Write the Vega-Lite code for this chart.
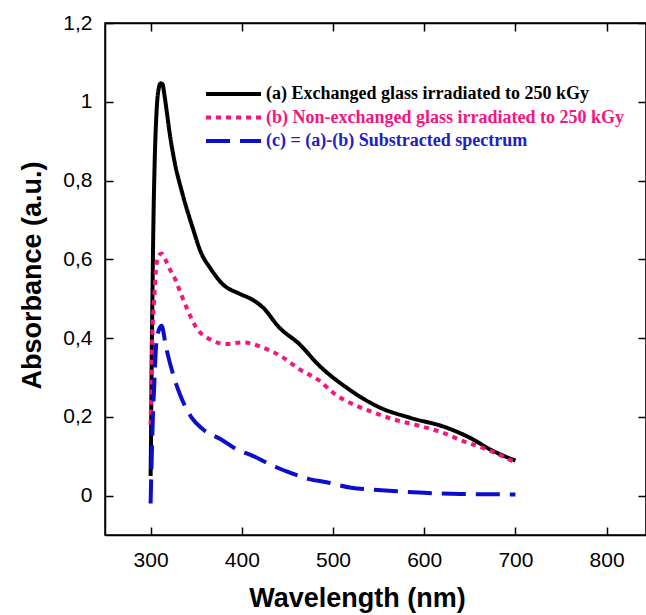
{
  "$schema": "https://vega.github.io/schema/vega-lite/v6.json",
  "autosize": "none",
  "width": 541,
  "height": 512,
  "padding": {"left": 105, "top": 23, "right": 0, "bottom": 80},
  "background": "white",
  "config": {
    "view": {"stroke": "black", "strokeWidth": 1.5},
    "font": "Liberation Sans",
    "axis": {
      "grid": false,
      "domainColor": "black",
      "domainWidth": 1.5,
      "tickColor": "black",
      "tickWidth": 1.5,
      "tickSize": -8,
      "labelFont": "Liberation Sans",
      "labelFontSize": 21,
      "labelColor": "black",
      "titleFont": "Liberation Sans",
      "titleFontWeight": "bold",
      "titleFontSize": 27,
      "titleColor": "black"
    }
  },
  "data": {
    "values": [
      {"series": "(a) Exchanged glass irradiated to 250 kGy", "wavelength": 300, "absorbance": 0.05},
      {"series": "(a) Exchanged glass irradiated to 250 kGy", "wavelength": 300.5, "absorbance": 0.15},
      {"series": "(a) Exchanged glass irradiated to 250 kGy", "wavelength": 301, "absorbance": 0.3},
      {"series": "(a) Exchanged glass irradiated to 250 kGy", "wavelength": 302, "absorbance": 0.5},
      {"series": "(a) Exchanged glass irradiated to 250 kGy", "wavelength": 303, "absorbance": 0.68},
      {"series": "(a) Exchanged glass irradiated to 250 kGy", "wavelength": 304.5, "absorbance": 0.85},
      {"series": "(a) Exchanged glass irradiated to 250 kGy", "wavelength": 306, "absorbance": 0.95},
      {"series": "(a) Exchanged glass irradiated to 250 kGy", "wavelength": 308, "absorbance": 1.02},
      {"series": "(a) Exchanged glass irradiated to 250 kGy", "wavelength": 311, "absorbance": 1.047},
      {"series": "(a) Exchanged glass irradiated to 250 kGy", "wavelength": 313, "absorbance": 1.045},
      {"series": "(a) Exchanged glass irradiated to 250 kGy", "wavelength": 315, "absorbance": 1.02},
      {"series": "(a) Exchanged glass irradiated to 250 kGy", "wavelength": 318, "absorbance": 0.97},
      {"series": "(a) Exchanged glass irradiated to 250 kGy", "wavelength": 320, "absorbance": 0.935},
      {"series": "(a) Exchanged glass irradiated to 250 kGy", "wavelength": 326, "absorbance": 0.851},
      {"series": "(a) Exchanged glass irradiated to 250 kGy", "wavelength": 335, "absorbance": 0.766},
      {"series": "(a) Exchanged glass irradiated to 250 kGy", "wavelength": 346, "absorbance": 0.681},
      {"series": "(a) Exchanged glass irradiated to 250 kGy", "wavelength": 356, "absorbance": 0.613},
      {"series": "(a) Exchanged glass irradiated to 250 kGy", "wavelength": 365, "absorbance": 0.579},
      {"series": "(a) Exchanged glass irradiated to 250 kGy", "wavelength": 379, "absorbance": 0.537},
      {"series": "(a) Exchanged glass irradiated to 250 kGy", "wavelength": 398, "absorbance": 0.512},
      {"series": "(a) Exchanged glass irradiated to 250 kGy", "wavelength": 412, "absorbance": 0.497},
      {"series": "(a) Exchanged glass irradiated to 250 kGy", "wavelength": 423, "absorbance": 0.478},
      {"series": "(a) Exchanged glass irradiated to 250 kGy", "wavelength": 441, "absorbance": 0.427},
      {"series": "(a) Exchanged glass irradiated to 250 kGy", "wavelength": 463, "absorbance": 0.385},
      {"series": "(a) Exchanged glass irradiated to 250 kGy", "wavelength": 485, "absorbance": 0.33},
      {"series": "(a) Exchanged glass irradiated to 250 kGy", "wavelength": 515, "absorbance": 0.274},
      {"series": "(a) Exchanged glass irradiated to 250 kGy", "wavelength": 551, "absorbance": 0.224},
      {"series": "(a) Exchanged glass irradiated to 250 kGy", "wavelength": 584, "absorbance": 0.198},
      {"series": "(a) Exchanged glass irradiated to 250 kGy", "wavelength": 624, "absorbance": 0.173},
      {"series": "(a) Exchanged glass irradiated to 250 kGy", "wavelength": 650, "absorbance": 0.147},
      {"series": "(a) Exchanged glass irradiated to 250 kGy", "wavelength": 675, "absorbance": 0.114},
      {"series": "(a) Exchanged glass irradiated to 250 kGy", "wavelength": 700, "absorbance": 0.089},
      {"series": "(b) Non-exchanged glass irradiated to 250 kGy", "wavelength": 300, "absorbance": 0.18},
      {"series": "(b) Non-exchanged glass irradiated to 250 kGy", "wavelength": 301, "absorbance": 0.3},
      {"series": "(b) Non-exchanged glass irradiated to 250 kGy", "wavelength": 302, "absorbance": 0.41},
      {"series": "(b) Non-exchanged glass irradiated to 250 kGy", "wavelength": 304, "absorbance": 0.5},
      {"series": "(b) Non-exchanged glass irradiated to 250 kGy", "wavelength": 306, "absorbance": 0.58},
      {"series": "(b) Non-exchanged glass irradiated to 250 kGy", "wavelength": 309, "absorbance": 0.61},
      {"series": "(b) Non-exchanged glass irradiated to 250 kGy", "wavelength": 312, "absorbance": 0.615},
      {"series": "(b) Non-exchanged glass irradiated to 250 kGy", "wavelength": 316, "absorbance": 0.6},
      {"series": "(b) Non-exchanged glass irradiated to 250 kGy", "wavelength": 321, "absorbance": 0.575},
      {"series": "(b) Non-exchanged glass irradiated to 250 kGy", "wavelength": 326, "absorbance": 0.554},
      {"series": "(b) Non-exchanged glass irradiated to 250 kGy", "wavelength": 332, "absorbance": 0.52},
      {"series": "(b) Non-exchanged glass irradiated to 250 kGy", "wavelength": 341, "absorbance": 0.469},
      {"series": "(b) Non-exchanged glass irradiated to 250 kGy", "wavelength": 350, "absorbance": 0.427},
      {"series": "(b) Non-exchanged glass irradiated to 250 kGy", "wavelength": 365, "absorbance": 0.397},
      {"series": "(b) Non-exchanged glass irradiated to 250 kGy", "wavelength": 383, "absorbance": 0.385},
      {"series": "(b) Non-exchanged glass irradiated to 250 kGy", "wavelength": 401, "absorbance": 0.389},
      {"series": "(b) Non-exchanged glass irradiated to 250 kGy", "wavelength": 423, "absorbance": 0.376},
      {"series": "(b) Non-exchanged glass irradiated to 250 kGy", "wavelength": 445, "absorbance": 0.351},
      {"series": "(b) Non-exchanged glass irradiated to 250 kGy", "wavelength": 463, "absorbance": 0.321},
      {"series": "(b) Non-exchanged glass irradiated to 250 kGy", "wavelength": 485, "absorbance": 0.292},
      {"series": "(b) Non-exchanged glass irradiated to 250 kGy", "wavelength": 502, "absorbance": 0.258},
      {"series": "(b) Non-exchanged glass irradiated to 250 kGy", "wavelength": 522, "absorbance": 0.232},
      {"series": "(b) Non-exchanged glass irradiated to 250 kGy", "wavelength": 540, "absorbance": 0.215},
      {"series": "(b) Non-exchanged glass irradiated to 250 kGy", "wavelength": 566, "absorbance": 0.194},
      {"series": "(b) Non-exchanged glass irradiated to 250 kGy", "wavelength": 595, "absorbance": 0.177},
      {"series": "(b) Non-exchanged glass irradiated to 250 kGy", "wavelength": 620, "absorbance": 0.16},
      {"series": "(b) Non-exchanged glass irradiated to 250 kGy", "wavelength": 642, "absorbance": 0.139},
      {"series": "(b) Non-exchanged glass irradiated to 250 kGy", "wavelength": 668, "absorbance": 0.118},
      {"series": "(b) Non-exchanged glass irradiated to 250 kGy", "wavelength": 700, "absorbance": 0.084},
      {"series": "(c) = (a)-(b) Substracted spectrum", "wavelength": 300, "absorbance": -0.02},
      {"series": "(c) = (a)-(b) Substracted spectrum", "wavelength": 300.5, "absorbance": 0.03},
      {"series": "(c) = (a)-(b) Substracted spectrum", "wavelength": 301.5, "absorbance": 0.12},
      {"series": "(c) = (a)-(b) Substracted spectrum", "wavelength": 302.5, "absorbance": 0.2},
      {"series": "(c) = (a)-(b) Substracted spectrum", "wavelength": 304, "absorbance": 0.28},
      {"series": "(c) = (a)-(b) Substracted spectrum", "wavelength": 306, "absorbance": 0.38},
      {"series": "(c) = (a)-(b) Substracted spectrum", "wavelength": 309, "absorbance": 0.42},
      {"series": "(c) = (a)-(b) Substracted spectrum", "wavelength": 312, "absorbance": 0.431},
      {"series": "(c) = (a)-(b) Substracted spectrum", "wavelength": 317, "absorbance": 0.376},
      {"series": "(c) = (a)-(b) Substracted spectrum", "wavelength": 324.5, "absorbance": 0.309},
      {"series": "(c) = (a)-(b) Substracted spectrum", "wavelength": 332, "absorbance": 0.258},
      {"series": "(c) = (a)-(b) Substracted spectrum", "wavelength": 345, "absorbance": 0.198},
      {"series": "(c) = (a)-(b) Substracted spectrum", "wavelength": 357, "absorbance": 0.169},
      {"series": "(c) = (a)-(b) Substracted spectrum", "wavelength": 377, "absorbance": 0.143},
      {"series": "(c) = (a)-(b) Substracted spectrum", "wavelength": 394, "absorbance": 0.118},
      {"series": "(c) = (a)-(b) Substracted spectrum", "wavelength": 412, "absorbance": 0.101},
      {"series": "(c) = (a)-(b) Substracted spectrum", "wavelength": 434, "absorbance": 0.076},
      {"series": "(c) = (a)-(b) Substracted spectrum", "wavelength": 452, "absorbance": 0.059},
      {"series": "(c) = (a)-(b) Substracted spectrum", "wavelength": 474, "absorbance": 0.042},
      {"series": "(c) = (a)-(b) Substracted spectrum", "wavelength": 493, "absorbance": 0.034},
      {"series": "(c) = (a)-(b) Substracted spectrum", "wavelength": 520, "absorbance": 0.02},
      {"series": "(c) = (a)-(b) Substracted spectrum", "wavelength": 545, "absorbance": 0.015},
      {"series": "(c) = (a)-(b) Substracted spectrum", "wavelength": 570, "absorbance": 0.011},
      {"series": "(c) = (a)-(b) Substracted spectrum", "wavelength": 600, "absorbance": 0.007},
      {"series": "(c) = (a)-(b) Substracted spectrum", "wavelength": 640, "absorbance": 0.004},
      {"series": "(c) = (a)-(b) Substracted spectrum", "wavelength": 700, "absorbance": 0.003}
    ]
  },
  "layer": [
    {
      "mark": {"type": "line", "strokeWidth": 4, "strokeCap": "butt", "strokeJoin": "round", "interpolate": "monotone"},
      "encoding": {
        "x": {
          "field": "wavelength",
          "type": "quantitative",
          "scale": {"domain": [250, 843.2], "nice": false, "zero": false},
          "axis": {
            "orient": "bottom",
            "values": [300, 400, 500, 600, 700, 800],
            "labelPadding": 22,
            "title": "Wavelength (nm)",
            "titleX": 252,
            "titleY": 63,
            "titleAlign": "center",
            "titleBaseline": "middle"
          }
        },
        "y": {
          "field": "absorbance",
          "type": "quantitative",
          "scale": {"domain": [-0.1, 1.2], "nice": false, "zero": false},
          "axis": {
            "orient": "left",
            "values": [0, 0.2, 0.4, 0.6, 0.8, 1, 1.2],
            "format": "~g",
            "labelExpr": "replace(datum.label, '.', ',')",
            "labelPadding": 21,
            "title": "Absorbance (a.u.)",
            "titleAngle": -90,
            "titleX": -73,
            "titleY": 252,
            "titleAlign": "center",
            "titleBaseline": "middle"
          }
        },
        "color": {
          "field": "series",
          "type": "nominal",
          "scale": {
            "domain": ["(a) Exchanged glass irradiated to 250 kGy", "(b) Non-exchanged glass irradiated to 250 kGy", "(c) = (a)-(b) Substracted spectrum"],
            "range": ["#000000", "#f5157f", "#0d0dcc"]
          },
          "legend": {
            "orient": "none",
            "legendX": 99,
            "legendY": 60,
            "title": null,
            "symbolType": "stroke",
            "symbolSize": 3025,
            "symbolStrokeWidth": 4,
            "clipHeight": 22,
            "rowPadding": 1.5,
            "labelFont": "Liberation Serif",
            "labelFontWeight": "bold",
            "labelFontSize": 18,
            "labelOffset": 3,
            "labelLimit": 0,
            "labelColor": {"expr": "indexof(datum.value, '(a)') == 0 ? '#000000' : indexof(datum.value, '(b)') == 0 ? '#f5157f' : '#2020c4'"}
          }
        },
        "strokeDash": {
          "field": "series",
          "type": "nominal",
          "scale": {
            "domain": ["(a) Exchanged glass irradiated to 250 kGy", "(b) Non-exchanged glass irradiated to 250 kGy", "(c) = (a)-(b) Substracted spectrum"],
            "range": [[1, 0], [5, 5], [24, 10]]
          },
          "legend": null
        }
      }
    },
    {
      "mark": {"type": "line", "opacity": 0},
      "encoding": {
        "x": {
          "field": "wavelength",
          "type": "quantitative",
          "axis": {"orient": "top", "values": [300, 400, 500, 600, 700, 800], "labels": false, "title": null}
        },
        "y": {
          "field": "absorbance",
          "type": "quantitative",
          "axis": {"orient": "right", "values": [0, 0.2, 0.4, 0.6, 0.8, 1, 1.2], "labels": false, "title": null}
        },
        "detail": {"field": "series"}
      }
    }
  ],
  "resolve": {"axis": {"x": "independent", "y": "independent"}}
}
